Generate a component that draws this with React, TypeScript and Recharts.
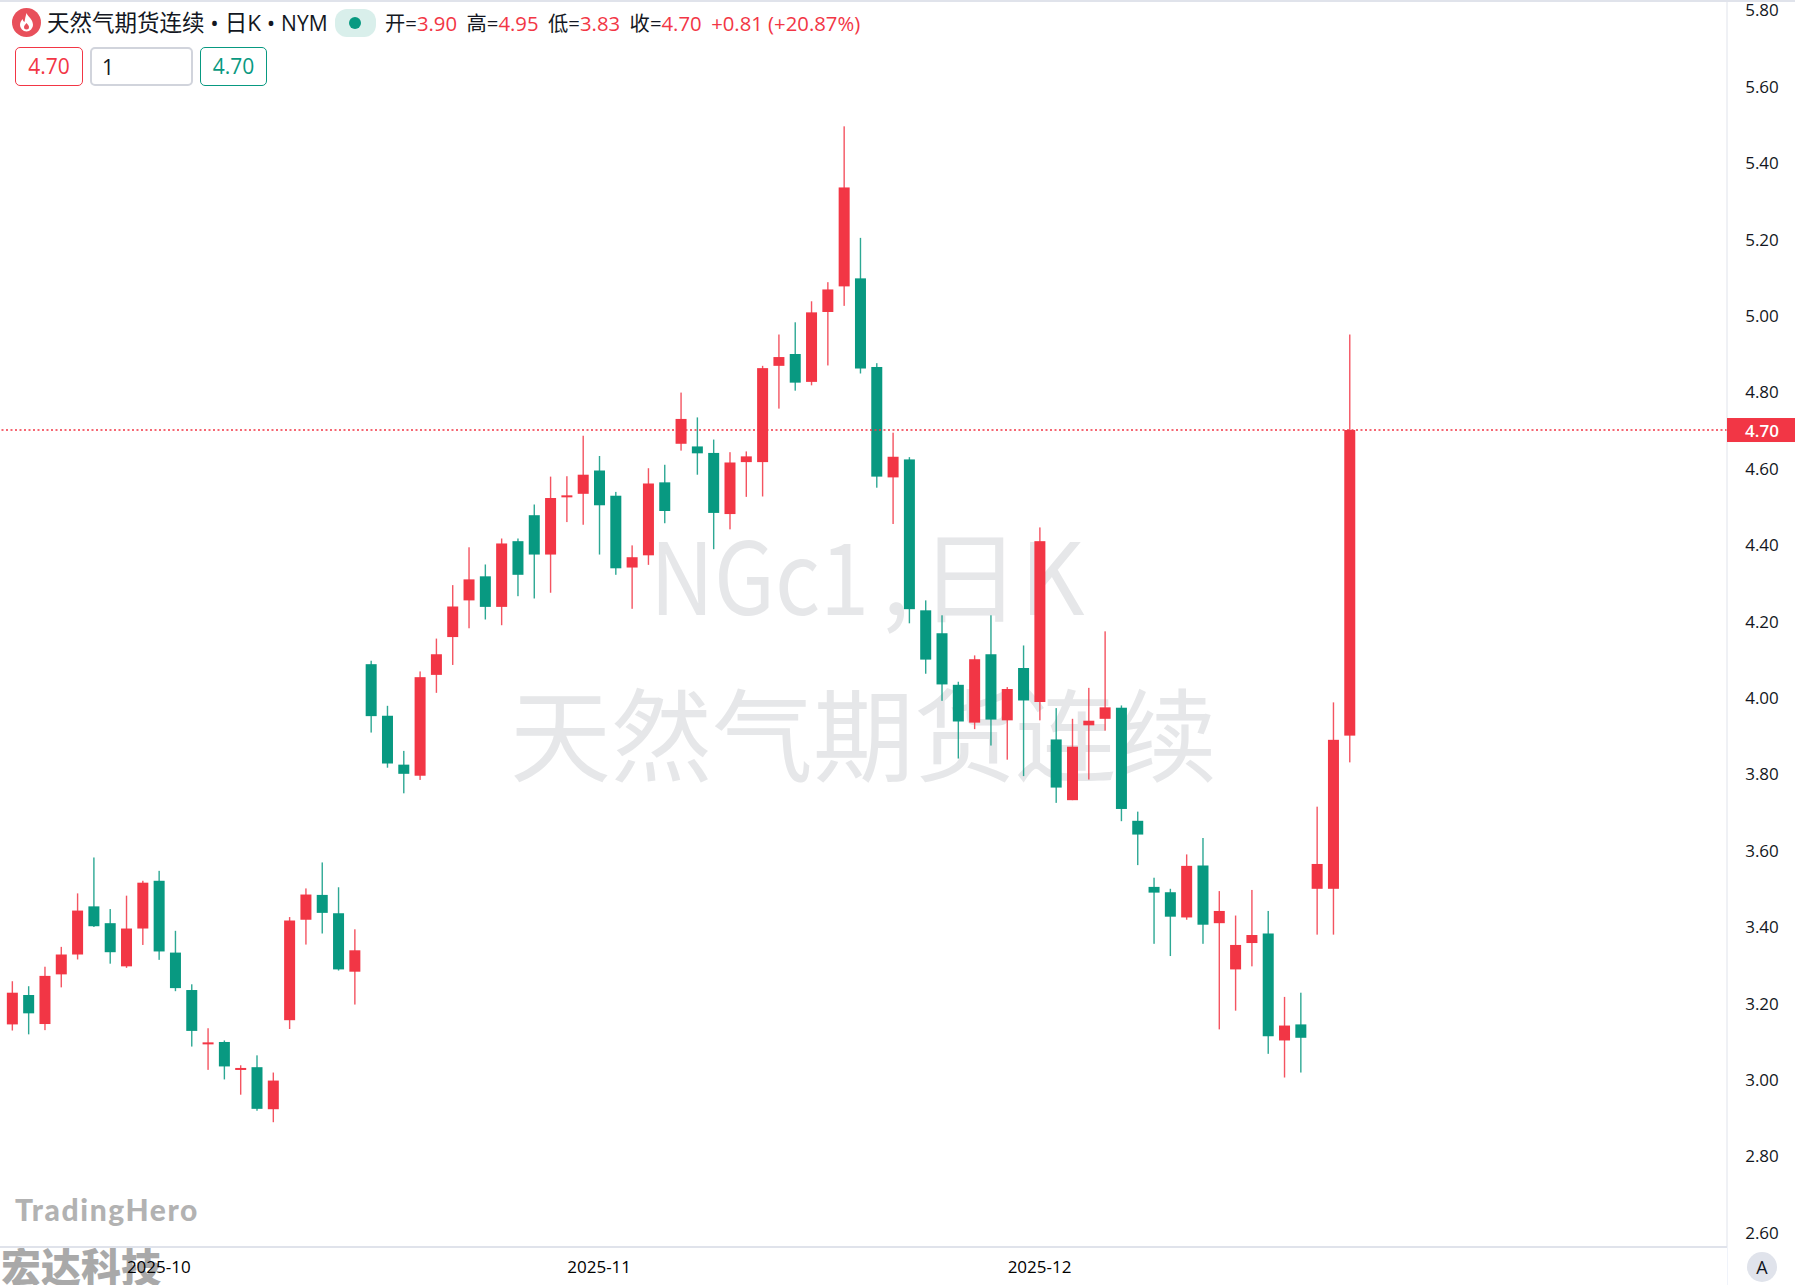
import React from 'react';
import { ComposedChart, Bar, XAxis, YAxis, ReferenceLine } from 'recharts';

const opens = [
  3.144, 3.221, 3.145, 3.275, 3.327, 3.453, 3.409, 3.296, 3.395, 3.52, 3.332, 3.234, 3.094, 3.098, 3.025, 3.032, 2.922,
  3.155, 3.418, 3.483, 3.435, 3.282, 4.087, 3.952, 3.824, 3.795, 4.059, 4.158, 4.254, 4.317, 4.237, 4.409, 4.477, 4.374,
  4.524, 4.533, 4.594, 4.528, 4.34, 4.372, 4.563, 4.664, 4.657, 4.64, 4.48, 4.616, 4.616, 4.868, 4.899, 4.826, 5.009,
  5.076, 5.097, 4.865, 4.576, 4.623, 4.228, 4.168, 4.033, 3.934, 4.113, 3.94, 4.077, 3.988, 3.89, 3.731, 3.927, 3.944,
  3.973, 3.677, 3.504, 3.49, 3.424, 3.56, 3.409, 3.288, 3.357, 3.382, 3.102, 3.144, 3.499, 3.499, 3.9,
];
const highs = [
  3.257, 3.244, 3.295, 3.347, 3.487, 3.581, 3.446, 3.481, 3.52, 3.546, 3.389, 3.249, 3.134, 3.102, 3.037, 3.063, 3.018,
  3.425, 3.5, 3.568, 3.503, 3.393, 4.096, 3.978, 3.86, 4.068, 4.154, 4.294, 4.393, 4.348, 4.416, 4.416, 4.505, 4.578,
  4.579, 4.685, 4.632, 4.538, 4.398, 4.6, 4.609, 4.798, 4.733, 4.675, 4.642, 4.644, 4.868, 4.95, 4.982, 5.037, 5.087,
  5.495, 5.203, 4.875, 4.693, 4.629, 4.254, 4.215, 4.041, 4.11, 4.215, 4.027, 4.136, 4.445, 3.972, 3.944, 4.025, 4.173,
  3.979, 3.701, 3.528, 3.499, 3.589, 3.632, 3.493, 3.429, 3.496, 3.441, 3.216, 3.227, 3.714, 3.987, 4.95,
];
const lows = [
  3.128, 3.118, 3.129, 3.241, 3.314, 3.399, 3.303, 3.292, 3.352, 3.313, 3.231, 3.086, 3.025, 3.0, 2.96, 2.918, 2.888,
  3.132, 3.353, 3.382, 3.285, 3.196, 3.908, 3.816, 3.749, 3.784, 4.012, 4.085, 4.181, 4.204, 4.189, 4.265, 4.259, 4.274,
  4.459, 4.452, 4.374, 4.321, 4.232, 4.347, 4.456, 4.646, 4.583, 4.388, 4.44, 4.525, 4.526, 4.756, 4.803, 4.817, 4.869,
  5.025, 4.848, 4.549, 4.454, 4.194, 4.062, 3.991, 3.84, 3.917, 3.874, 3.837, 3.794, 3.94, 3.724, 3.731, 3.785, 3.913,
  3.676, 3.561, 3.355, 3.323, 3.418, 3.355, 3.131, 3.18, 3.296, 3.067, 3.005, 3.018, 3.379, 3.379, 3.83,
];
const closes = [
  3.227, 3.173, 3.271, 3.327, 3.442, 3.401, 3.333, 3.395, 3.515, 3.335, 3.239, 3.127, 3.097, 3.034, 3.03, 2.923, 2.997,
  3.416, 3.484, 3.436, 3.288, 3.338, 3.951, 3.827, 3.8, 4.053, 4.113, 4.238, 4.309, 4.237, 4.403, 4.321, 4.374, 4.522,
  4.529, 4.583, 4.503, 4.338, 4.367, 4.56, 4.488, 4.729, 4.639, 4.483, 4.615, 4.631, 4.862, 4.891, 4.824, 5.008, 5.068,
  5.335, 4.861, 4.578, 4.63, 4.231, 4.099, 4.034, 3.937, 4.1, 3.942, 4.022, 3.992, 4.409, 3.764, 3.871, 3.939, 3.974,
  3.708, 3.641, 3.489, 3.426, 3.559, 3.405, 3.441, 3.352, 3.378, 3.113, 3.141, 3.109, 3.564, 3.889, 4.7,
];

const priceTicks = [2.6, 2.8, 3.0, 3.2, 3.4, 3.6, 3.8, 4.0, 4.2, 4.4, 4.6, 4.7, 4.8, 5.0, 5.2, 5.4, 5.6, 5.8];
const monthTicks = [9, 36, 63];
const monthLabels = ['2025-10', '2025-11', '2025-12'];
const lastPrice = 4.7;

const UP = '#f23645';
const DOWN = '#089981';
const LINE = '#e0e3eb';
const FONT = '"Open Sans", "Noto Sans CJK SC", sans-serif';
const CJK = '"Noto Sans CJK SC"';

const rows = opens.map((open, i) => ({
  idx: i,
  open,
  high: highs[i],
  low: lows[i],
  close: closes[i],
}));

const Candle = (props: any) => {
  const { x, y, width, height, payload } = props;
  const { open, high, low, close } = payload;
  const top = Math.min(y, y + height);
  const h = Math.abs(height);
  const pxPerUnit = h / (high - low);
  const bodyTop = top + (high - Math.max(open, close)) * pxPerUnit;
  const bodyH = Math.max(Math.abs(close - open) * pxPerUnit, 2);
  const cx = x + width / 2;
  const color = close >= open ? UP : DOWN;
  return (
    <g>
      <rect x={cx - 0.7} y={top} width={1.4} height={h} fill={color} fillOpacity={0.85} />
      <rect x={cx - width / 2} y={bodyTop} width={width} height={bodyH} fill={color} />
    </g>
  );
};

const PriceTick = (props: any) => {
  const { x, y, payload } = props;
  const isLast = payload.value === lastPrice;
  return (
    <g>
      {isLast && <rect x={x - 8} y={y - 12} width={68} height={24} fill={UP} />}
      <text
        x={x + 27}
        y={y}
        dy={6.5}
        textAnchor="middle"
        fontFamily={FONT}
        fontSize={17}
        fontWeight={isLast ? 600 : 400}
        fill={isLast ? '#ffffff' : '#131722'}
      >
        {payload.value.toFixed(2)}
      </text>
    </g>
  );
};

const MonthTick = (props: any) => {
  const { x, y, payload } = props;
  return (
    <text x={x} y={y} dy={18} textAnchor="middle" fontFamily={FONT} fontSize={17} fill="#000000">
      {monthLabels[monthTicks.indexOf(payload.value)]}
    </text>
  );
};

const abs = (left: number, top: number, extra: React.CSSProperties = {}): React.CSSProperties => ({
  position: 'absolute',
  left,
  top,
  whiteSpace: 'nowrap',
  ...extra,
});

const Box = ({ left, width, color, children, align = 'center', border = 1.5 }: any) => (
  <div
    style={abs(left, 47, {
      width,
      height: 39,
      boxSizing: 'border-box',
      border: `${border}px solid ${color}`,
      borderRadius: 5,
      background: '#fff',
      fontSize: 21,
      lineHeight: '37px',
      textAlign: align,
    })}
  >
    {children}
  </div>
);

const Quote = ({ name, value }: { name: string; value: string }) => (
  <span style={{ marginRight: 9.5 }}>
    <span style={{ color: '#131722' }}>{name}=</span>
    <span style={{ color: UP }}>{value}</span>
  </span>
);

const markStyle: React.CSSProperties = { fontSize: 100, lineHeight: '134px', color: '#e6e7e9', fontFamily: CJK };

export default function App() {
  return (
    <div style={abs(0, 0, { width: 1795, height: 1285, background: '#fff', overflow: 'hidden', fontFamily: FONT })}>
      {/* watermarks sit under the chart */}
      <div style={abs(650, 505, { ...markStyle, transform: 'scaleX(0.885)', transformOrigin: 'left' })}>NGc1</div>
      <div style={abs(882, 505, markStyle)}>,</div>
      <div style={abs(920, 505, markStyle)}>日K</div>
      <div style={abs(510, 663, { ...markStyle, fontSize: 101 })}>天然气期货连续</div>
      <div
        style={abs(15, 1189, {
          fontSize: 30,
          lineHeight: '40px',
          fontWeight: 900,
          letterSpacing: 1.6,
          color: '#b2b2b2',
          fontFamily: 'Lato',
        })}
      >
        TradingHero
      </div>
      <div style={abs(1, 1240, { fontSize: 40, lineHeight: '50px', fontWeight: 900, color: '#a9a9a9', fontFamily: CJK })}>
        宏达科技
      </div>
      <div style={abs(1727, 1247, { width: 1, height: 38, background: '#f0f3fa' })} />

      <div style={abs(0, 0)}>
        <ComposedChart width={1795} height={1285} data={rows} margin={{ top: 0, right: 0, bottom: 0, left: 0 }}>
          <XAxis
            dataKey="idx"
            type="number"
            domain={[-0.736, 105.15]}
            allowDataOverflow
            ticks={monthTicks}
            interval={0}
            height={38}
            stroke={LINE}
            strokeWidth={2}
            tickLine={false}
            tick={<MonthTick />}
          />
          <YAxis
            orientation="right"
            type="number"
            domain={[2.5613, 5.8257]}
            allowDataOverflow
            ticks={priceTicks}
            interval={0}
            width={68}
            stroke={LINE}
            strokeWidth={1}
            tickLine={false}
            tick={<PriceTick />}
          />
          <ReferenceLine y={lastPrice} stroke={UP} strokeWidth={1.4} strokeDasharray="2 2.5" />
          <Bar
            dataKey={(d: any) => [d.low, d.high]}
            barSize={11}
            shape={<Candle />}
            isAnimationActive={false}
          />
        </ComposedChart>
      </div>

      {/* legend header */}
      <div style={abs(0, 0, { width: 1795, height: 2, background: LINE })} />
      <svg style={abs(12, 8)} width={29} height={29} viewBox="0 0 29 29">
        <circle cx={14.5} cy={14.5} r={14.5} fill="#e8505b" />
        <path
          d="M14.5 5c1 3.5 6.5 6 6.5 12a6.5 6.5 0 0 1-13 0c0-3 1.5-4.5 2.5-6 .5 1.5 1 2.5 2 3 .5-3 1-6 2-9z"
          fill="#fff"
        />
        <path d="M14.5 15c1 1.500 2.500 2.500 2.500 4a2.500 2.500 0 0 1-5 0c0-1.500 1.500-2.500 2.500-4z" fill="#e8505b" />
      </svg>
      <div style={abs(47, 8, { fontSize: 22.5, lineHeight: '30px', color: '#131722' })}>
        天然气期货连续 • 日K • <span style={{ fontSize: 21 }}>NYM</span>
      </div>
      <div style={abs(335, 9, { width: 41, height: 28, borderRadius: 12, background: '#d9efeb' })} />
      <div style={abs(349, 17, { width: 12, height: 12, borderRadius: 6, background: DOWN })} />
      <div style={abs(385, 9, { fontSize: 20.3, lineHeight: '28px' })}>
        <Quote name="开" value="3.90" />
        <Quote name="高" value="4.95" />
        <Quote name="低" value="3.83" />
        <Quote name="收" value="4.70" />
        <span style={{ color: UP }}>+0.81 (+20.87%)</span>
      </div>
      <Box left={15} width={68} color={UP}>
        <span style={{ color: UP }}>4.70</span>
      </Box>
      <Box left={90} width={103} color="#d1d4dc" align="left" border={2}>
        <span style={{ marginLeft: 10, color: '#131722' }}>1</span>
      </Box>
      <Box left={200} width={67} color={DOWN}>
        <span style={{ color: DOWN }}>4.70</span>
      </Box>

      <div
        style={abs(1747, 1252, {
          width: 30,
          height: 30,
          borderRadius: 15,
          background: LINE,
          textAlign: 'center',
          fontSize: 18,
          lineHeight: '30px',
          color: '#131722',
        })}
      >
        A
      </div>
    </div>
  );
}
